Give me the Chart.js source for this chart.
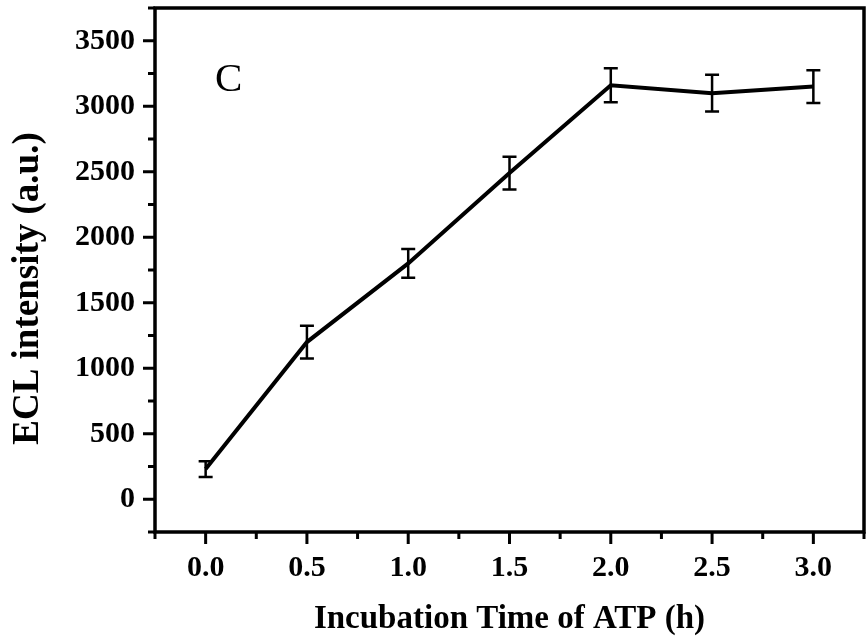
<!DOCTYPE html>
<html>
<head>
<meta charset="utf-8">
<script src="https://cdn.jsdelivr.net/npm/chart.js@4"></script>
<style>
  html, body { margin: 0; padding: 0; background: #fff; }
  #wrap { width: 866px; height: 641px; }
</style>
</head>
<body>
<div id="wrap"><canvas id="eclChart" width="866" height="641"></canvas></div>
<script>
// Data
const times = [0, 0.5, 1.0, 1.5, 2.0, 2.5, 3.0];          // h
const intensity = [230, 1200, 1800, 2490, 3160, 3100, 3150]; // a.u.
const errors = [60, 125, 110, 125, 130, 140, 125];

const FONT = "'Liberation Serif', 'Times New Roman', serif";

// drop the label padding chart.js adds so the plot box sits where we want it
function noPad(s) {
  s.paddingLeft = 0; s.paddingRight = 0;
  s.paddingTop = 0; s.paddingBottom = 0;
}

// error bars, tick marks and the frame
const framePlugin = {
  id: 'framePlugin',
  afterDatasetsDraw(chart) {
    const c = chart.ctx;
    const xs = chart.scales.x, ys = chart.scales.y;
    c.save();
    c.strokeStyle = '#000';
    c.lineWidth = 2.5;
    times.forEach((t, i) => {
      const px = xs.getPixelForValue(t);
      const top = ys.getPixelForValue(intensity[i] + errors[i]);
      const bot = ys.getPixelForValue(intensity[i] - errors[i]);
      c.beginPath();
      c.moveTo(px, top); c.lineTo(px, bot);
      c.moveTo(px - 7, top); c.lineTo(px + 7, top);
      c.moveTo(px - 7, bot); c.lineTo(px + 7, bot);
      c.stroke();
    });
    c.restore();
  },
  afterDraw(chart) {
    const c = chart.ctx;
    const a = chart.chartArea;
    const xs = chart.scales.x, ys = chart.scales.y;
    c.save();
    c.strokeStyle = '#000';
    c.lineWidth = 3.5;
    c.strokeRect(a.left, a.top, a.right - a.left, a.bottom - a.top);
    c.lineWidth = 3;
    c.beginPath();
    xs.ticks.forEach(tk => {
      const px = xs.getPixelForValue(tk.value);
      const major = Math.abs(tk.value * 2 - Math.round(tk.value * 2)) < 1e-6;
      c.moveTo(px, a.bottom); c.lineTo(px, a.bottom + (major ? 12 : 7));
    });
    ys.ticks.forEach(tk => {
      const py = ys.getPixelForValue(tk.value);
      const major = tk.value % 500 === 0;
      c.moveTo(a.left, py); c.lineTo(a.left - (major ? 12 : 7), py);
    });
    c.stroke();
    // panel letter
    c.fillStyle = '#000';
    c.font = '41px ' + FONT;
    c.textBaseline = 'alphabetic';
    c.fillText('C', 215, 91);
    c.restore();
  }
};

new Chart(document.getElementById('eclChart'), {
  type: 'line',
  data: {
    datasets: [{
      data: times.map((t, i) => ({ x: t, y: intensity[i] })),
      borderColor: '#000',
      borderWidth: 4,
      pointRadius: 0,
      fill: false,
      tension: 0
    }]
  },
  options: {
    responsive: false,
    animation: false,
    layout: { padding: { top: 8, right: 2, left: 0, bottom: 0 } },
    plugins: { legend: { display: false }, tooltip: { enabled: false } },
    scales: {
      x: {
        type: 'linear',
        min: -0.25,
        max: 3.25,
        afterFit: s => { s.height = 109; noPad(s); },
        grid: { display: false },
        border: { display: false },
        ticks: {
          stepSize: 0.25,
          autoSkip: false,
          maxRotation: 0,
          padding: 10,
          color: '#000',
          font: { family: FONT, size: 30, weight: 'bold' },
          callback: v => Math.abs(v * 2 - Math.round(v * 2)) < 1e-6 ? v.toFixed(1) : ''
        },
        title: {
          display: true,
          text: 'Incubation Time of ATP (h)',
          color: '#000',
          padding: { top: 0, bottom: 2 },
          font: { family: FONT, size: 33, weight: 'bold' }
        }
      },
      y: {
        min: -250,
        max: 3750,
        afterFit: s => { s.width = 155; noPad(s); },
        grid: { display: false },
        border: { display: false },
        ticks: {
          stepSize: 250,
          autoSkip: false,
          padding: 12,
          color: '#000',
          font: { family: FONT, size: 30, weight: 'bold' },
          callback: v => v % 500 === 0 ? String(v) : ''
        },
        title: {
          display: true,
          // trailing spaces push the rotated title down to where it sits in the figure
          text: 'ECL intensity (a.u.)    ',
          color: '#000',
          padding: { top: 6, bottom: 0 },
          font: { family: FONT, size: 37, weight: 'bold' }
        }
      }
    }
  },
  plugins: [framePlugin]
});
</script>
</body>
</html>
